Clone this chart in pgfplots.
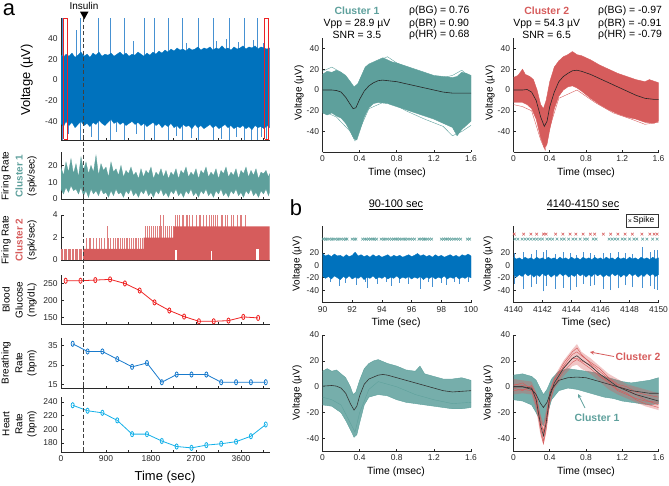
\documentclass[border=0pt]{standalone}
\usepackage{pgfplots}
\pgfplotsset{compat=1.18}
\usepackage{fontspec}
\setmainfont{Liberation Sans}
\definecolor{mblue}{RGB}{0,114,189}
\definecolor{lblue}{RGB}{70,145,210}
\definecolor{cteal}{RGB}{94,160,156}
\definecolor{cred}{RGB}{214,92,92}
\definecolor{bgred}{RGB}{238,34,34}
\definecolor{brblue}{RGB}{24,122,204}
\definecolor{hrcyan}{RGB}{20,176,232}
\definecolor{axgray}{RGB}{40,40,40}
\newcommand{\fs}[1]{\fontsize{#1}{#1}\selectfont}
\pgfplotsset{
 mybase/.style={scale only axis, anchor=south west, axis lines*=left,
   axis line style={-, draw=axgray, line width=0.7bp},
   tick style={draw=axgray, line width=0.6bp}, tick align=inside, major tick length=2.5bp,
   enlargelimits=false,
   tick label style={font=\fs{8.5}, text=black!85},
   /pgf/number format/assume math mode=true, /pgf/number format/1000 sep={}},
 leftcol/.style={mybase, width=208.5bp, xmin=0, xmax=4170, xtick={0,450,...,4050}, xticklabels={}},
 vmark/.style={mark=o, mark size=2.6bp, line width=0.8bp, mark options={solid, xscale=0.6}},
}
\begin{document}
\begin{tikzpicture}
\useasboundingbox (0,0) rectangle (669bp,-486bp);

% ---------------- P1 voltage
\begin{axis}[leftcol, at={(61bp,-140bp)}, height=122bp, ymin=-58, ymax=60, ytick={-40,-20,0,20,40}]
\addplot[lblue, line width=0.6bp, unbounded coords=jump] coordinates {
(20,-58)(20,60)(20,nan) (313,-40)(313,48)(313,nan) (380,-58)(380,60)(380,nan)
(740,-58)(740,60)(740,nan) (980,-58)(980,60)(980,nan) (1260,-58)(1260,60)(1260,nan)
(1660,-58)(1660,60)(1660,nan) (1860,-58)(1860,60)(1860,nan) (2140,-58)(2140,60)(2140,nan)
(2420,-58)(2420,60)(2420,nan) (2740,-58)(2740,60)(2740,nan) (3040,-58)(3040,60)(3040,nan)
(3360,-58)(3360,60)(3360,nan) (3660,-58)(3660,60)(3660,nan) (3920,-58)(3920,60)(3920,nan)};
\addplot[lblue, line width=0.5bp, unbounded coords=jump] coordinates {
(150,-40)(150,-52)(150,nan) (600,-40)(600,-55)(600,nan) (1100,-40)(1100,-50)(1100,nan)
(1500,-40)(1500,-52)(1500,nan) (2300,-40)(2300,-54)(2300,nan) (2600,-40)(2600,-56)(2600,nan)
(3200,-40)(3200,-57)(3200,nan) (3500,-40)(3500,-55)(3500,nan) (3800,-40)(3800,-58)(3800,nan)
(4000,-40)(4000,-55)(4000,nan) (4100,-40)(4100,-57)(4100,nan)
(1450,20)(1450,38)(1450,nan) (2500,20)(2500,36)(2500,nan) (3100,20)(3100,38)(3100,nan)
(3300,20)(3300,40)(3300,nan) (3550,20)(3550,37)(3550,nan) (3850,20)(3850,39)(3850,nan)
(4050,20)(4050,36)(4050,nan)};
\addplot[fill=mblue, draw=mblue, line width=0.3bp] coordinates {
(0,24)(50,22)(100,25)(160,23)(220,26)(280,22)(340,24)(400,27)(460,23)(520,25)(580,22)(640,26)(700,24)(760,27)(820,23)(880,25)(940,24)(1000,26)(1060,23)(1120,25)(1180,27)(1240,24)(1300,26)(1360,23)(1420,25)(1480,24)(1540,27)(1600,25)(1660,23)(1720,26)(1780,24)(1840,27)(1900,25)(1960,28)(2020,26)(2080,29)(2140,27)(2200,30)(2260,28)(2320,31)(2380,29)(2440,30)(2500,28)(2560,31)(2620,29)(2680,30)(2740,32)(2800,29)(2860,31)(2920,30)(2980,32)(3040,29)(3100,31)(3160,30)(3220,33)(3280,30)(3340,31)(3400,29)(3460,32)(3520,30)(3580,31)(3640,33)(3700,30)(3760,32)(3820,31)(3880,33)(3940,30)(4000,32)(4060,31)(4120,30)(4170,31)
(4170,-46)(4120,-44)(4060,-47)(4000,-45)(3940,-46)(3880,-44)(3820,-48)(3760,-45)(3700,-47)(3640,-44)(3580,-46)(3520,-45)(3460,-47)(3400,-44)(3340,-46)(3280,-43)(3220,-45)(3160,-47)(3100,-44)(3040,-46)(2980,-43)(2920,-45)(2860,-47)(2800,-44)(2740,-46)(2680,-43)(2620,-47)(2560,-44)(2500,-45)(2440,-43)(2380,-47)(2320,-44)(2260,-46)(2200,-42)(2140,-45)(2080,-43)(2020,-46)(1960,-42)(1900,-44)(1840,-41)(1780,-43)(1720,-45)(1660,-42)(1600,-44)(1540,-41)(1480,-43)(1420,-40)(1360,-42)(1300,-44)(1240,-41)(1180,-43)(1120,-40)(1060,-42)(1000,-38)(940,-41)(880,-44)(820,-42)(760,-39)(700,-43)(640,-41)(580,-45)(520,-42)(460,-44)(400,-40)(340,-43)(280,-46)(220,-41)(160,-44)(100,-40)(50,-45)(0,-42)};
\addplot[bgred, line width=0.7bp] coordinates {(55,-57.5)(125,-57.5)(125,59.5)(55,59.5)(55,-57.5)};
\addplot[bgred, line width=0.7bp] coordinates {(4075,-57.5)(4145,-57.5)(4145,59.5)(4075,59.5)(4075,-57.5)};
\coordinate (insTop) at (axis cs:450,60);
\end{axis}

% ---------------- P2 firing rate cluster 1
\begin{axis}[leftcol, at={(61bp,-199bp)}, height=47bp, ymin=0, ymax=28, ytick={0,10,20}]
\addplot[fill=cteal, draw=cteal, line width=0.3bp] coordinates {
(0,19)(50,14)(100,22)(150,16)(200,24)(250,15)(300,21)(350,13)(400,25)(450,17)(500,22)(550,15)(600,20)(650,16)(700,26)(750,14)(800,21)(850,17)(900,19)(950,13)(1000,22)(1050,16)(1100,18)(1150,14)(1200,20)(1250,13)(1300,17)(1350,15)(1400,19)(1450,14)(1500,16)(1550,12)(1600,18)(1650,13)(1700,17)(1750,15)(1800,19)(1850,12)(1900,16)(1950,14)(2000,18)(2050,13)(2100,17)(2150,12)(2200,16)(2250,14)(2300,18)(2350,12)(2400,17)(2450,15)(2500,19)(2550,13)(2600,16)(2650,14)(2700,18)(2750,12)(2800,17)(2850,15)(2900,19)(2950,13)(3000,16)(3050,14)(3100,18)(3150,12)(3200,17)(3250,15)(3300,19)(3350,13)(3400,16)(3450,14)(3500,18)(3550,12)(3600,17)(3650,15)(3700,19)(3750,13)(3800,17)(3850,14)(3900,18)(3950,12)(4000,16)(4050,15)(4100,17)(4150,13)(4170,15)
(4170,4)(4150,2)(4100,6)(4050,3)(4000,5)(3950,1)(3900,4)(3850,2)(3800,6)(3750,3)(3700,5)(3650,1)(3600,4)(3550,2)(3500,6)(3450,3)(3400,5)(3350,1)(3300,4)(3250,2)(3200,6)(3150,3)(3100,5)(3050,1)(3000,4)(2950,2)(2900,6)(2850,3)(2800,5)(2750,1)(2700,4)(2650,2)(2600,6)(2550,3)(2500,5)(2450,1)(2400,4)(2350,2)(2300,6)(2250,3)(2200,5)(2150,1)(2100,4)(2050,2)(2000,6)(1950,3)(1900,5)(1850,1)(1800,4)(1750,2)(1700,6)(1650,3)(1600,5)(1550,1)(1500,4)(1450,2)(1400,6)(1350,3)(1300,5)(1250,1)(1200,4)(1150,3)(1100,6)(1050,2)(1000,5)(950,1)(900,4)(850,3)(800,6)(750,2)(700,5)(650,3)(600,6)(550,1)(500,5)(450,2)(400,7)(350,3)(300,6)(250,5)(200,8)(150,4)(100,7)(50,3)(0,6)};
\end{axis}

% ---------------- P3 firing rate cluster 2
\begin{axis}[leftcol, at={(61bp,-260bp)}, height=45bp, ymin=0, ymax=4, ytick={0,2,4}]
\addplot[ycomb, cred!85, line width=0.6bp] coordinates {
(10,1)(35,1)(60,1)(90,1)(115,1)(140,1)(170,1)(195,1)(225,1)(250,1)(280,1)(305,1)(330,1)(360,1)(385,1)(410,1)(440,1)};
\addplot[ycomb, cred!80, line width=0.5bp] coordinates {
(500,2)(560,2)(594,2)(640,2)(700,2)(760,2)(800,2)(870,2)(920,3)(950,2)(990,2)(1040,2)(1080,2)(1120,2)(1150,2)(1190,2)(1230,2)(1260,2)(1300,2)(1330,2)(1370,2)(1400,2)(1440,2)(1480,2)(1510,2)(1550,2)(1590,2)(1620,2)
(1680,3)(1720,3)(1770,3)(1800,3)(1850,3)(1880,3)(1930,3)(1960,3)(1980,4)(2000,3)(2040,3)(2050,4)(2090,3)(2120,3)(2170,3)(2200,3)(2240,3)
(2280,4)(2330,4)(2360,4)(2420,4)(2450,4)(2500,4)(2530,4)(2560,4)(2620,4)(2700,4)(2760,4)(2790,4)(2850,4)(2900,4)(2960,4)(3000,4)(3050,4)(3090,4)(3120,4)(3200,4)(3230,4)(3280,4)(3330,4)(3400,4)(3450,4)(3520,4)(3580,4)(3600,4)(3680,4)};
\addplot[fill=cred, draw=none] coordinates {(450,0)(450,1)(1650,1)(1650,2)(2250,2)(2250,3)(4170,3)(4170,0)};
\addplot[fill=white, draw=none] coordinates {(3905,0)(3905,1)(3950,1)(3950,0)};
\addplot[ycomb, white, line width=0.6bp] coordinates {(2290,0.9)(2310,0.9)(3010,0.8)};
\end{axis}

% ---------------- P4 blood glucose
\begin{axis}[leftcol, at={(61bp,-324bp)}, height=49bp, ymin=130, ymax=275, ytick={150,200,250}]
\addplot[bgred, vmark] coordinates {
(94,258)(390,258)(686,260)(982,262)(1278,250)(1574,229)(1870,194)(2166,170)(2462,152)(2758,138)(3054,138)(3350,140)(3646,151)(3942,148)};
\end{axis}

% ---------------- P5 breathing rate
\begin{axis}[leftcol, at={(61bp,-388bp)}, height=50bp, ymin=13, ymax=39, ytick={15,25,35}]
\addplot[brblue, vmark] coordinates {
(234,36)(531,32)(828,32)(1125,28)(1422,24)(1719,26)(2016,16)(2313,20)(2610,20)(2907,20)(3204,16)(3501,16)(3798,16)(4095,16)};
\end{axis}

% ---------------- P6 heart rate
\begin{axis}[leftcol, at={(61bp,-452bp)}, height=55bp, ymin=167, ymax=247, ytick={180,200,220,240},
  xticklabels={0,,900,,1800,,2700,,3600,}]
\addplot[hrcyan, vmark] coordinates {
(234,235)(531,227)(828,224)(1125,213)(1422,193)(1719,193)(2016,183)(2313,175)(2610,173)(2907,177)(3204,179)(3501,182)(3798,190)(4095,207)};
\coordinate (insBot) at (axis cs:450,167);
\end{axis}

\draw[black!75, dash pattern=on 4bp off 2.5bp, line width=0.7bp] (insTop) -- (insBot);

% ---------------- W1
\begin{axis}[mybase, at={(322.5bp,-152.4bp)}, width=148.5bp, height=114.4bp, xmin=0, xmax=1.6, ymin=-60, ymax=50,
  xtick={0,0.4,0.8,1.2,1.6}, ytick={-40,-20,0,20,40}]
\addplot[fill=cteal, draw=cteal, line width=0.4bp] coordinates {
(0,15)(0.05,18)(0.1,17)(0.15,19)(0.2,17)(0.25,14)(0.3,8)(0.34,3)(0.38,6)(0.42,14)(0.46,22)(0.5,25)(0.55,27)(0.6,29)(0.65,31)(0.7,29)(0.75,27)(0.8,26)(0.9,23)(1.0,20)(1.1,17)(1.2,14)(1.3,13)(1.4,12)(1.45,13)(1.5,17)(1.55,16)(1.6,14)
(1.6,-30)(1.55,-34)(1.5,-38)(1.45,-44)(1.4,-36)(1.3,-32)(1.2,-28)(1.1,-25)(1.0,-22)(0.9,-19)(0.8,-16)(0.7,-13)(0.6,-12)(0.55,-13)(0.5,-17)(0.45,-26)(0.4,-40)(0.37,-48)(0.34,-47)(0.3,-40)(0.25,-32)(0.2,-27)(0.15,-25)(0.1,-22)(0.05,-24)(0,-22)};
\addplot[cteal, line width=0.4bp] coordinates {(0,18)(0.1,22)(0.2,17)(0.3,5)(0.35,-2)(0.45,15)(0.6,28)(0.7,32)(0.8,26)(1.0,18)(1.2,10)(1.4,14)(1.5,19)(1.6,12)};
\addplot[cteal, line width=0.4bp] coordinates {(0,-20)(0.15,-26)(0.3,-40)(0.35,-49)(0.4,-38)(0.5,-18)(0.7,-10)(0.9,-20)(1.1,-28)(1.3,-35)(1.4,-44)(1.5,-40)(1.6,-34)};
\addplot[black!85, line width=0.6bp] coordinates {
(0,0)(0.1,0)(0.15,-0.5)(0.2,-2)(0.25,-7)(0.3,-14)(0.33,-18)(0.36,-17)(0.4,-9)(0.45,-1)(0.5,4)(0.55,7)(0.6,9)(0.65,9.5)(0.7,9)(0.8,8)(0.9,6)(1.0,4)(1.1,2)(1.2,0)(1.3,-2)(1.4,-3)(1.5,-3)(1.6,-3)};
\end{axis}

% ---------------- W2
\begin{axis}[mybase, at={(513.5bp,-152.4bp)}, width=145bp, height=114.4bp, xmin=0, xmax=1.6, ymin=-60, ymax=50,
  xtick={0,0.4,0.8,1.2,1.6}, ytick={-40,-20,0,20,40}]
\addplot[fill=cred, draw=cred, line width=0.4bp] coordinates {
(0,12)(0.05,14)(0.1,20)(0.13,15)(0.18,13)(0.22,10)(0.26,0)(0.3,-14)(0.33,-18)(0.36,-10)(0.4,8)(0.45,22)(0.5,28)(0.55,32)(0.6,34)(0.65,37)(0.7,34)(0.75,33)(0.85,29)(0.95,24)(1.05,20)(1.15,16)(1.25,13)(1.35,10)(1.45,8)(1.5,10)(1.6,7)
(1.6,-30)(1.55,-32)(1.45,-31)(1.35,-28)(1.25,-26)(1.15,-23)(1.05,-19)(0.95,-14)(0.85,-8)(0.75,-1)(0.7,2)(0.65,4)(0.6,3)(0.55,0)(0.5,-6)(0.45,-18)(0.4,-38)(0.37,-52)(0.34,-56)(0.3,-46)(0.25,-28)(0.2,-18)(0.15,-14)(0.1,-12)(0,-12)};
\addplot[cred, line width=0.4bp] coordinates {(0,-14)(0.1,-16)(0.2,-20)(0.3,-48)(0.35,-58)(0.4,-36)(0.5,-8)(0.7,0)(0.9,-12)(1.1,-22)(1.3,-28)(1.45,-33)(1.6,-31)};
\addplot[black!85, line width=0.6bp] coordinates {
(0,0)(0.1,0)(0.15,0.5)(0.2,-2)(0.25,-10)(0.3,-26)(0.34,-35)(0.37,-30)(0.4,-16)(0.45,-2)(0.5,8)(0.55,13)(0.6,16)(0.65,18.5)(0.7,19)(0.75,18)(0.85,15)(0.95,11)(1.05,7)(1.15,3)(1.25,-1)(1.35,-5)(1.45,-8)(1.55,-9)(1.6,-9)};
\end{axis}

% ---------------- B1
\begin{axis}[mybase, at={(322.5bp,-302.7bp)}, width=148.5bp, height=76.7bp, xmin=90, xmax=100, ymin=-60, ymax=63,
  xtick={90,92,...,100}, ytick={-40,-20,0,20}]
\addplot[lblue, line width=0.5bp, unbounded coords=jump] coordinates {
(90.55,-15)(90.55,-27)(90.55,nan) (91.1,-15)(91.1,-33)(91.1,nan) (91.5,-15)(91.5,-28)(91.5,nan)
(92.3,-15)(92.3,-31)(92.3,nan) (92.9,-15)(92.9,-26)(92.9,nan) (93.0,-15)(93.0,-36)(93.0,nan)
(93.7,-15)(93.7,-30)(93.7,nan) (94.3,-15)(94.3,-27)(94.3,nan) (94.6,-15)(94.6,-33)(94.6,nan)
(95.2,-15)(95.2,-28)(95.2,nan) (95.8,-15)(95.8,-30)(95.8,nan) (96.6,-15)(96.6,-38)(96.6,nan)
(97.1,-15)(97.1,-27)(97.1,nan) (97.4,-15)(97.4,-35)(97.4,nan) (98.0,-15)(98.0,-28)(98.0,nan)
(98.3,-15)(98.3,-32)(98.3,nan) (98.9,-15)(98.9,-27)(98.9,nan) (99.2,-15)(99.2,-30)(99.2,nan)
(99.8,-15)(99.8,-26)(99.8,nan)};
\addplot[fill=mblue, draw=mblue, line width=0.3bp] coordinates {
(90,19)(90.2,15)(90.4,17)(90.6,14)(90.8,18)(91,15)(91.2,16)(91.4,13)(91.6,17)(91.8,14)(92,16)(92.2,21)(92.4,15)(92.6,17)(92.8,14)(93,16)(93.2,13)(93.4,17)(93.6,14)(93.8,16)(94,13)(94.2,15)(94.4,17)(94.6,13)(94.8,16)(95,14)(95.2,16)(95.4,13)(95.6,15)(95.8,17)(96,14)(96.2,16)(96.4,19)(96.6,15)(96.8,17)(97,14)(97.2,16)(97.4,13)(97.6,17)(97.8,14)(98,16)(98.2,13)(98.4,15)(98.6,17)(98.8,14)(99,16)(99.2,13)(99.4,17)(99.6,15)(99.8,18)(100,15)
(100,-20)(99.8,-18)(99.6,-21)(99.4,-19)(99.2,-22)(99,-18)(98.8,-21)(98.6,-19)(98.4,-22)(98.2,-17)(98,-21)(97.8,-19)(97.6,-22)(97.4,-18)(97.2,-21)(97,-19)(96.8,-23)(96.6,-18)(96.4,-21)(96.2,-19)(96,-22)(95.8,-18)(95.6,-21)(95.4,-19)(95.2,-22)(95,-17)(94.8,-21)(94.6,-19)(94.4,-22)(94.2,-18)(94,-21)(93.8,-19)(93.6,-22)(93.4,-17)(93.2,-21)(93,-19)(92.8,-23)(92.6,-18)(92.4,-21)(92.2,-19)(92,-22)(91.8,-17)(91.6,-21)(91.4,-18)(91.2,-23)(91,-20)(90.8,-17)(90.6,-22)(90.4,-18)(90.2,-21)(90,-17)};
\addplot[only marks, mark=x, mark size=1.9bp, cteal, line width=0.55bp] coordinates {
(90.05,42)(90.2,42)(90.3,42)(90.45,42)(90.6,42)(90.7,42)(90.85,42)(91.0,42)(91.1,42)(91.25,42)(91.4,42)(91.55,42)(91.65,42)(92.0,42)(92.15,42)(92.25,42)(92.7,42)(92.85,42)(92.95,42)(93.1,42)(93.25,42)(93.4,42)(93.5,42)(93.65,42)(93.95,42)(94.1,42)(94.2,42)(94.35,42)(94.5,42)(94.65,42)(94.8,42)(94.95,42)(95.05,42)(95.2,42)(95.35,42)(95.5,42)(95.6,42)(95.75,42)(95.9,42)(96.05,42)(96.2,42)(96.5,42)(96.65,42)(96.8,42)(96.9,42)(97.05,42)(97.2,42)(97.35,42)(98.0,42)(98.15,42)(98.3,42)(98.4,42)(98.55,42)(98.7,42)(98.85,42)(99.0,42)(99.15,42)(99.3,42)(99.75,42)(99.9,42)};
\end{axis}

% ---------------- B2
\begin{axis}[mybase, at={(513.5bp,-302.7bp)}, width=145bp, height=76.7bp, xmin=4140, xmax=4150, ymin=-60, ymax=63,
  xtick={4140,4142,...,4150}, ytick={-40,-20,0,20},
  legend style={at={(1,0.985)}, anchor=south east, font=\fs{8.5}, inner xsep=2bp, inner ysep=0.5bp, row sep=-1bp, draw=black!80, line width=0.4bp},
  legend cell align=left]
\addlegendimage{only marks, mark=x, mark size=1.9bp, black!70, line width=0.5bp}
\addlegendentry{Spike}
\addplot[lblue, line width=0.5bp, unbounded coords=jump, forget plot] coordinates {
(4140.05,-30)(4140.05,20)(4140.05,nan) (4140.7,-38)(4140.7,22)(4140.7,nan) (4141.2,-35)(4141.2,18)(4141.2,nan)
(4141.6,-30)(4141.6,24)(4141.6,nan) (4142.07,-42)(4142.07,22)(4142.07,nan) (4142.25,-33)(4142.25,25)(4142.25,nan)
(4142.9,-38)(4142.9,18)(4142.9,nan) (4143.4,-36)(4143.4,22)(4143.4,nan) (4143.9,-40)(4143.9,20)(4143.9,nan)
(4144.3,-35)(4144.3,17)(4144.3,nan) (4144.8,-30)(4144.8,21)(4144.8,nan) (4145.3,-33)(4145.3,19)(4145.3,nan)
(4145.6,-32)(4145.6,16)(4145.6,nan) (4146.2,-38)(4146.2,19)(4146.2,nan) (4146.7,-40)(4146.7,20)(4146.7,nan)
(4147.2,-37)(4147.2,22)(4147.2,nan) (4147.7,-32)(4147.7,19)(4147.7,nan) (4148.2,-35)(4148.2,18)(4148.2,nan)
(4148.85,-36)(4148.85,30)(4148.85,nan) (4149.4,-34)(4149.4,21)(4149.4,nan) (4149.7,-38)(4149.7,24)(4149.7,nan)
(4149.9,-39)(4149.9,25)(4149.9,nan)};
\addplot[fill=mblue, draw=mblue, line width=0.3bp, forget plot] coordinates {
(4140,13)(4140.2,10)(4140.4,12)(4140.6,9)(4140.8,13)(4141,10)(4141.2,12)(4141.4,9)(4141.6,13)(4141.8,10)(4142,12)(4142.2,9)(4142.4,13)(4142.6,10)(4142.8,12)(4143,9)(4143.2,13)(4143.4,10)(4143.6,12)(4143.8,9)(4144,13)(4144.2,10)(4144.4,12)(4144.6,9)(4144.8,13)(4145,10)(4145.2,12)(4145.4,9)(4145.6,13)(4145.8,10)(4146,12)(4146.2,9)(4146.4,13)(4146.6,10)(4146.8,12)(4147,9)(4147.2,13)(4147.4,10)(4147.6,12)(4147.8,9)(4148,13)(4148.2,10)(4148.4,12)(4148.6,9)(4148.8,13)(4149,10)(4149.2,12)(4149.4,9)(4149.6,13)(4149.8,10)(4150,12)
(4150,-15)(4149.8,-18)(4149.6,-14)(4149.4,-17)(4149.2,-13)(4149,-18)(4148.8,-15)(4148.6,-19)(4148.4,-14)(4148.2,-17)(4148,-13)(4147.8,-18)(4147.6,-15)(4147.4,-19)(4147.2,-14)(4147,-17)(4146.8,-13)(4146.6,-18)(4146.4,-15)(4146.2,-19)(4146,-14)(4145.8,-17)(4145.6,-13)(4145.4,-18)(4145.2,-15)(4145,-19)(4144.8,-14)(4144.6,-17)(4144.4,-13)(4144.2,-18)(4144,-15)(4143.8,-19)(4143.6,-14)(4143.4,-17)(4143.2,-13)(4143,-18)(4142.8,-15)(4142.6,-19)(4142.4,-14)(4142.2,-17)(4142,-13)(4141.8,-18)(4141.6,-15)(4141.4,-19)(4141.2,-14)(4141,-17)(4140.8,-13)(4140.6,-18)(4140.4,-15)(4140.2,-19)(4140,-14)};
\addplot[only marks, mark=x, mark size=1.9bp, cteal, line width=0.55bp, forget plot] coordinates {
(4140.1,42)(4140.3,42)(4140.6,42)(4140.8,42)(4141.0,42)(4141.2,42)(4141.4,42)(4141.6,42)(4141.8,42)(4142.0,42)(4142.3,42)(4142.5,42)(4142.7,42)(4143.0,42)(4143.3,42)(4143.5,42)(4143.8,42)(4144.1,42)(4144.3,42)(4144.6,42)(4144.9,42)(4145.1,42)(4145.5,42)(4145.7,42)(4146.6,42)(4146.8,42)(4147.0,42)(4147.2,42)(4147.5,42)(4147.7,42)(4148.0,42)(4148.3,42)(4148.5,42)(4148.9,42)(4149.2,42)(4149.6,42)(4149.9,42)};
\addplot[only marks, mark=x, mark size=1.9bp, cred, line width=0.55bp, forget plot] coordinates {
(4140.05,50)(4140.7,50)(4141.2,50)(4141.6,50)(4142.07,50)(4142.25,50)(4142.9,50)(4143.4,50)(4143.9,50)(4144.3,50)(4144.8,50)(4145.3,50)(4145.6,50)(4146.2,50)(4146.7,50)(4147.2,50)(4147.7,50)(4148.2,50)(4148.85,50)(4149.4,50)(4149.7,50)(4149.9,50)};
\end{axis}

% ---------------- B3
\begin{axis}[mybase, at={(322.5bp,-451.5bp)}, width=148.5bp, height=116.5bp, xmin=0, xmax=1.6, ymin=-50, ymax=40,
  xtick={0,0.4,0.8,1.2,1.6}, ytick={-40,-20,0,20,40}]
\addplot[fill=cteal, fill opacity=0.85, draw=cteal, line width=0.4bp] coordinates {
(0,12)(0.05,14)(0.1,12)(0.15,13)(0.2,10)(0.25,7)(0.3,0)(0.33,-6)(0.36,-4)(0.4,5)(0.45,14)(0.5,18)(0.55,20)(0.6,21)(0.7,18)(0.8,16)(0.9,13)(1.0,12)(1.05,16)(1.1,10)(1.2,8)(1.3,6)(1.4,6)(1.5,7)(1.6,5)
(1.6,-16)(1.5,-17)(1.4,-17)(1.3,-16)(1.2,-15)(1.1,-14)(1.0,-13)(0.9,-12)(0.8,-10)(0.7,-7)(0.6,-6)(0.5,-8)(0.45,-14)(0.4,-28)(0.37,-37)(0.34,-39)(0.3,-33)(0.25,-26)(0.2,-20)(0.1,-15)(0,-14)};
\addplot[cteal, line width=0.4bp] coordinates {(0,-8)(0.1,-10)(0.2,-14)(0.3,-28)(0.35,-35)(0.4,-20)(0.5,-2)(0.6,4)(0.8,0)(1.0,-6)(1.2,-10)(1.4,-13)(1.6,-12)};
\addplot[black!80, line width=0.6bp] coordinates {
(0,0.5)(0.1,1)(0.15,0.5)(0.2,-1)(0.25,-5)(0.3,-13)(0.34,-18)(0.37,-15)(0.4,-7)(0.45,2)(0.5,6)(0.6,9)(0.65,9.5)(0.7,9)(0.8,7)(0.9,5)(1.0,3)(1.1,1)(1.2,-1)(1.3,-3)(1.4,-4)(1.5,-3.5)(1.6,-3)};
\end{axis}

% ---------------- B4
\begin{axis}[mybase, at={(513.5bp,-451.5bp)}, width=145bp, height=116.5bp, xmin=0, xmax=1.6, ymin=-50, ymax=40,
  xtick={0,0.4,0.8,1.2,1.6}, ytick={-40,-20,0,20,40}]
\addplot[fill=cteal, fill opacity=0.85, draw=cteal, line width=0.4bp] coordinates {
(0,9)(0.1,10)(0.2,8)(0.25,5)(0.3,-2)(0.33,-6)(0.37,-2)(0.42,6)(0.5,12)(0.6,14)(0.7,13)(0.8,12)(0.9,11)(1.0,8)(1.1,6)(1.2,4)(1.3,3)(1.4,4)(1.5,5)(1.6,7)
(1.6,-13)(1.5,-14)(1.4,-13)(1.3,-12)(1.2,-11)(1.1,-9)(1.0,-8)(0.9,-6)(0.8,-4)(0.7,-2)(0.6,-1)(0.5,-3)(0.42,-10)(0.37,-22)(0.33,-30)(0.3,-27)(0.25,-20)(0.2,-14)(0.1,-11)(0,-10)};
\addplot[fill=cred, fill opacity=0.35, draw=none] coordinates {
(0,6)(0.1,5)(0.2,4)(0.25,-4)(0.3,-22)(0.33,-28)(0.36,-18)(0.4,-2)(0.45,8)(0.55,20)(0.65,29)(0.7,33)(0.75,27)(0.85,22)(0.95,16)(1.05,10)(1.15,6)(1.25,2)(1.35,0)(1.45,-2)(1.6,-5)
(1.6,-18)(1.45,-15)(1.35,-12)(1.25,-9)(1.15,-6)(1.05,-2)(0.95,4)(0.85,10)(0.75,14)(0.7,17)(0.65,16)(0.55,8)(0.45,-2)(0.4,-14)(0.36,-36)(0.33,-45)(0.3,-38)(0.25,-18)(0.2,-6)(0.1,-5)(0,-6)};
\addplot[cred, line width=0.45bp] coordinates {(0,2)(0.1,1)(0.2,0)(0.25,-8)(0.3,-32)(0.33,-42)(0.36,-30)(0.4,-8)(0.45,5)(0.55,18)(0.65,27)(0.7,30)(0.75,25)(0.85,18)(0.95,12)(1.05,6)(1.15,1)(1.25,-2)(1.35,-6)(1.45,-10)(1.6,-14)};
\addplot[cred, line width=0.45bp] coordinates {(0,-3)(0.1,-2)(0.2,-3)(0.25,-14)(0.3,-28)(0.33,-34)(0.36,-24)(0.4,-6)(0.45,1)(0.55,12)(0.65,19)(0.7,21)(0.75,19)(0.85,14)(0.95,8)(1.05,3)(1.15,-3)(1.25,-6)(1.35,-9)(1.45,-11)(1.6,-12)};
\addplot[cred, line width=0.45bp] coordinates {(0,1)(0.1,3)(0.2,-2)(0.25,-12)(0.3,-35)(0.33,-44)(0.36,-33)(0.4,-12)(0.45,0)(0.55,16)(0.65,25)(0.7,27)(0.75,24)(0.85,19)(0.95,14)(1.05,7)(1.15,2)(1.25,0)(1.35,-4)(1.45,-6)(1.6,-8)};
\addplot[cred, line width=0.45bp] coordinates {(0,-1)(0.1,-3)(0.2,1)(0.25,-6)(0.3,-25)(0.33,-36)(0.36,-26)(0.4,-4)(0.45,6)(0.55,15)(0.65,22)(0.7,22)(0.75,20)(0.85,17)(0.95,9)(1.05,4)(1.15,-2)(1.25,-5)(1.35,-10)(1.45,-13)(1.6,-16)};
\addplot[black!80, line width=0.6bp] coordinates {
(0,0)(0.1,0)(0.2,-2)(0.25,-6)(0.3,-13)(0.33,-16)(0.37,-12)(0.42,-2)(0.5,5)(0.6,7)(0.7,7.5)(0.8,7)(0.9,5)(1.0,3)(1.1,1)(1.2,-1)(1.3,-3)(1.4,-4)(1.5,-5)(1.6,-5)};
\addplot[black!80, line width=0.6bp] coordinates {
(0,0)(0.1,0)(0.2,-1)(0.25,-10)(0.3,-30)(0.33,-38)(0.36,-28)(0.4,-8)(0.45,3)(0.55,14)(0.65,22)(0.7,24)(0.75,21)(0.85,16)(0.95,10)(1.05,5)(1.15,0)(1.25,-3)(1.35,-6)(1.45,-8)(1.6,-11)};
\end{axis}

% ---------------- text
\node[font=\fs{22}, inner sep=0pt] at (9bp,-10bp) {a};
\node[font=\fs{22}, inner sep=0pt] at (296bp,-208bp) {b};
\node[font=\fs{10}] at (84bp,-5.5bp) {Insulin};
\fill[black] (80bp,-11.7bp) -- (88.5bp,-11.7bp) -- (84.25bp,-19.3bp) -- cycle;

\node[font=\fs{13}, rotate=90] at (26.7bp,-80bp) {Voltage (µV)};
\node[font=\fs{10}, rotate=90] at (6bp,-176bp) {Firing Rate};
\node[font=\bfseries\fs{10}, text=cteal, rotate=90] at (19bp,-176bp) {Cluster 1};
\node[font=\fs{10}, rotate=90] at (32bp,-176bp) {(spk/sec)};
\node[font=\fs{10}, rotate=90] at (6bp,-240bp) {Firing Rate};
\node[font=\bfseries\fs{10}, text=cred, rotate=90] at (19bp,-240bp) {Cluster 2};
\node[font=\fs{10}, rotate=90] at (32bp,-240bp) {(spk/sec)};
\node[font=\fs{10}, rotate=90] at (6bp,-300bp) {Blood};
\node[font=\fs{10}, rotate=90] at (19bp,-300bp) {Glucose};
\node[font=\fs{10}, rotate=90] at (32bp,-300bp) {(mg/dL)};
\node[font=\fs{10}, rotate=90] at (6bp,-363bp) {Breathing};
\node[font=\fs{10}, rotate=90] at (19bp,-363bp) {Rate};
\node[font=\fs{10}, rotate=90] at (32bp,-363bp) {(bpm)};
\node[font=\fs{10}, rotate=90] at (6bp,-424bp) {Heart};
\node[font=\fs{10}, rotate=90] at (19bp,-424bp) {Rate};
\node[font=\fs{10}, rotate=90] at (32bp,-424bp) {(bpm)};
\node[font=\fs{13}] at (165bp,-477bp) {Time (sec)};

\node[font=\bfseries\fs{10.5}, text=cteal] at (357bp,-10.7bp) {Cluster 1};
\node[font=\fs{10.5}] at (357bp,-23.5bp) {Vpp = 28.9 µV};
\node[font=\fs{10.5}] at (357bp,-35bp) {SNR = 3.5};
\node[font=\fs{10.5}, anchor=west, inner sep=0pt] at (409bp,-10.7bp) {ρ(BG) = 0.76};
\node[font=\fs{10.5}, anchor=west, inner sep=0pt] at (409bp,-23.5bp) {ρ(BR) = 0.90};
\node[font=\fs{10.5}, anchor=west, inner sep=0pt] at (409bp,-35bp) {ρ(HR) = 0.68};
\node[font=\bfseries\fs{10.5}, text=cred] at (546.7bp,-10.7bp) {Cluster 2};
\node[font=\fs{10.5}] at (546.7bp,-23.5bp) {Vpp = 54.3 µV};
\node[font=\fs{10.5}] at (546.7bp,-35bp) {SNR = 6.5};
\node[font=\fs{10.5}, anchor=west, inner sep=0pt] at (598bp,-10.7bp) {ρ(BG) = -0.97};
\node[font=\fs{10.5}, anchor=west, inner sep=0pt] at (598bp,-23.5bp) {ρ(BR) = -0.91};
\node[font=\fs{10.5}, anchor=west, inner sep=0pt] at (598bp,-35bp) {ρ(HR) = -0.79};

\node[font=\fs{10}, rotate=90] at (299bp,-93bp) {Voltage (µV)};
\node[font=\fs{10}, rotate=90] at (490bp,-93bp) {Voltage (µV)};
\node[font=\fs{10}, rotate=90] at (297bp,-264bp) {Voltage (µV)};
\node[font=\fs{10}, rotate=90] at (488bp,-264bp) {Voltage (µV)};
\node[font=\fs{10}, rotate=90] at (297bp,-393bp) {Voltage (µV)};
\node[font=\fs{10}, rotate=90] at (488bp,-393bp) {Voltage (µV)};
\node[font=\fs{10.5}] at (397bp,-173bp) {Time (msec)};
\node[font=\fs{10.5}] at (586bp,-173bp) {Time (msec)};
\node[font=\fs{10.5}] at (396bp,-323bp) {Time (sec)};
\node[font=\fs{10.5}] at (586bp,-323bp) {Time (sec)};
\node[font=\fs{10.5}] at (396bp,-472bp) {Time (msec)};
\node[font=\fs{10.5}] at (586bp,-472bp) {Time (msec)};
\node[font=\fs{11}] at (396bp,-205bp) {\underline{90-100 sec}};
\node[font=\fs{11}] at (583bp,-205bp) {\underline{4140-4150 sec}};

\node[font=\bfseries\fs{10.5}, text=cred] at (638bp,-357bp) {Cluster 2};
\draw[cred, line width=0.8bp, -stealth] (614bp,-356.5bp) -- (590bp,-352bp);
\node[font=\bfseries\fs{10.5}, text=cteal] at (597bp,-417.5bp) {Cluster 1};
\draw[cteal, line width=0.8bp, -stealth] (585bp,-408bp) -- (578bp,-394bp);
\end{tikzpicture}
\end{document}
